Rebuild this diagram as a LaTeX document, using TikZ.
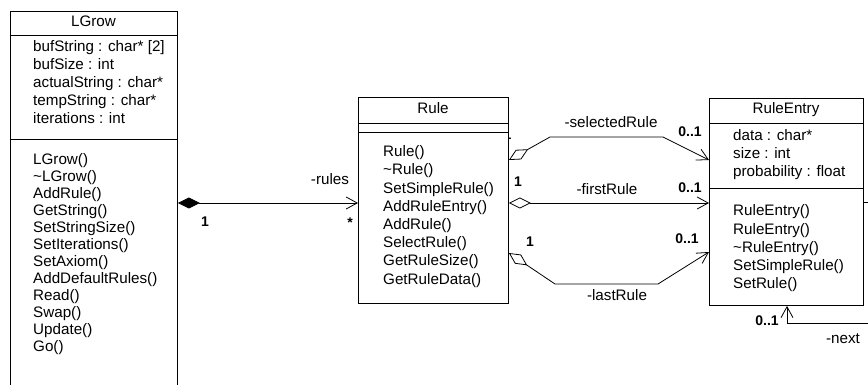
\documentclass[tikz,border=0pt]{standalone}
\usepackage{fontspec}
\setmainfont{Liberation Sans}
\usetikzlibrary{arrows.meta,calc}

\begin{document}
\begin{tikzpicture}[x=1pt,y=-1pt,
  txt/.style={inner sep=0pt, text height=11pt, text depth=3.5pt, font=\fontsize{15.2}{17}\selectfont},
  member/.style={txt, anchor=west},
  mult/.style={inner sep=0pt, text height=10pt, text depth=0pt, font=\fontsize{14}{16}\selectfont\bfseries},
  classbox/.style={draw, fill=white, line width=0.9pt, rectangle, inner sep=0pt, anchor=north west},
  sep/.style={line width=0.9pt},
  assoc/.style={line width=0.8pt, -{Straight Barb[length=11pt,width=12pt]}},
  aggr/.style={assoc, {Diamond[open,length=22pt,width=11pt]}-{Straight Barb[length=11pt,width=12pt]}},
  comp/.style={assoc, {Diamond[length=22pt,width=11pt]}-{Straight Barb[length=11pt,width=12pt]}},
]
\clip (0,0) rectangle (868,385);

% multiplicity partly covered by the Rule box
\node[mult] (m-sel-src) at (507.5,135) {1};

% class boxes
\node[classbox, minimum width=167pt, minimum height=400pt] (lgrow) at (10,11) {};
\node[classbox, minimum width=150pt, minimum height=206pt] (rule) at (358,97) {};
\node[classbox, minimum width=154pt, minimum height=207pt] (entry) at (709,98) {};

% LGrow
\node[txt] (lgrow-name) at (93.5,23) {LGrow};
\draw[sep] ($(lgrow.north west)+(0,24)$) -- ($(lgrow.north east)+(0,24)$);
\foreach \t [count=\i from 0] in {bufString : char* [2], bufSize : int, actualString : char*, tempString : char*, iterations : int}
  \node[member] (lgrow-a\i) at (33,48+18*\i) {\t};
\draw[sep] ($(lgrow.north west)+(0,128)$) -- ($(lgrow.north east)+(0,128)$);
\foreach \t [count=\i from 0] in {LGrow(), \textasciitilde LGrow(), AddRule(), GetString(), SetStringSize(), SetIterations(), SetAxiom(), AddDefaultRules(), Read(), Swap(), Update(), Go()}
  \node[member] (lgrow-m\i) at (33,161+17*\i) {\t};

% Rule
\node[txt] (rule-name) at (433,110) {Rule};
\draw[sep] ($(rule.north west)+(0,26)$) -- ($(rule.north east)+(0,26)$);
\draw[sep] ($(rule.north west)+(0,35)$) -- ($(rule.north east)+(0,35)$);
\foreach \t [count=\i from 0] in {Rule(), \textasciitilde Rule(), SetSimpleRule(), AddRuleEntry(), AddRule(), SelectRule(), GetRuleSize(), GetRuleData()}
  \node[member] (rule-m\i) at (383,153+18.2*\i) {\t};

% RuleEntry
\node[txt] (entry-name) at (786,110) {RuleEntry};
\draw[sep] ($(entry.north west)+(0,25)$) -- ($(entry.north east)+(0,25)$);
\foreach \t [count=\i from 0] in {data : char*, size : int, probability : float}
  \node[member] (entry-a\i) at (733,137+18*\i) {\t};
\draw[sep] ($(entry.north west)+(0,90)$) -- ($(entry.north east)+(0,90)$);
\foreach \t [count=\i from 0] in {RuleEntry(), RuleEntry(), \textasciitilde RuleEntry(), SetSimpleRule(), SetRule()}
  \node[member] (entry-m\i) at (733,212+18.3*\i) {\t};

% LGrow -> Rule (composition)
\draw[comp] (lgrow.east |- 0,203) -- (rule.west |- 0,203);
\node[txt] (l-rules) at (330,181) {-rules};
\node[mult] (m-rules-src) at (205,221) {1};
\node[mult] (m-rules-dst) at (350,222) {*};

% Rule -> RuleEntry (aggregations)
\draw[aggr] (rule.east |- 0,160) -- (550,137) -- (663,137) -- (entry.west |- 0,160);
\node[txt] (l-sel) at (611,124) {-selectedRule};
\node[mult] (m-sel-dst) at (690,132) {0..1};

\draw[aggr] (rule.east |- 0,203) -- (entry.west |- 0,203);
\node[txt] (l-first) at (607,191) {-firstRule};
\node[mult] (m-first-src) at (518,181) {1};
\node[mult] (m-first-dst) at (690,188) {0..1};

\draw[aggr] (rule.east |- 0,253) -- (555,284) -- (658,284) -- (entry.west |- 0,252);
\node[txt] (l-last) at (617,297) {-lastRule};
\node[mult] (m-last-src) at (530,241) {1};
\node[mult] (m-last-dst) at (687,238) {0..1};

% RuleEntry self association
\coordinate (loop-a) at (885,202);
\coordinate (loop-b) at (885,323);
\coordinate (loop-c) at (787,323);
\draw[assoc] (entry.east |- 0,202) -- (loop-a) -- (loop-b) -- (loop-c) -- (entry.south -| loop-c);
\node[txt] (l-next) at (843,340) {-next};
\node[mult] (m-next) at (767,320) {0..1};
\end{tikzpicture}
\end{document}
